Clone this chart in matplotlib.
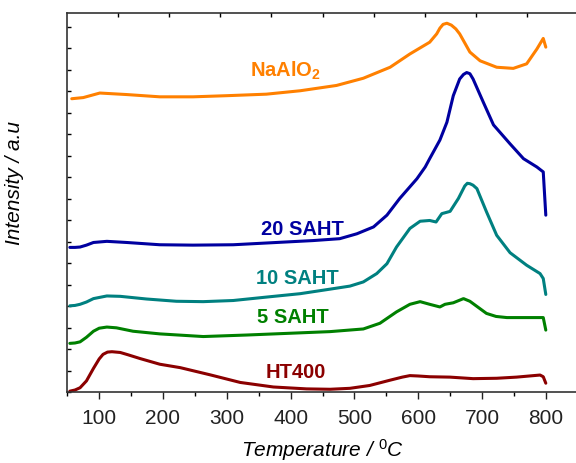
import matplotlib
matplotlib.use("Agg")
import matplotlib.pyplot as plt
import numpy as np

plt.rcParams['font.family'] = ['Liberation Sans', 'DejaVu Sans']
plt.rcParams['mathtext.fontset'] = 'custom'
plt.rcParams['mathtext.rm'] = 'Liberation Sans'
plt.rcParams['mathtext.it'] = 'Liberation Sans:italic'
plt.rcParams['mathtext.bf'] = 'Liberation Sans:bold'

# ---- data (temperature in C, intensity in arbitrary units with offsets) ----
ht400_T = [54, 62, 70, 80, 91, 100, 106, 113, 120, 133, 145, 164, 195, 227, 274, 321, 373, 425, 462,
           493, 524, 556, 575, 587, 600, 618, 650, 686, 723, 754, 791, 796, 800]
ht400_I = [0.3, 0.6, 1.2, 3.0, 6.3, 8.8, 10.0, 10.6, 10.7, 10.5, 9.9, 8.9, 7.4, 6.5, 4.6, 2.6, 1.4, 0.9, 0.8,
           1.05, 1.8, 3.2, 4.0, 4.4, 4.3, 4.1, 4.0, 3.6, 3.7, 4.0, 4.55, 4.1, 2.4]

s5_T = [54, 62, 70, 80, 91, 100, 112, 127, 153, 195, 263, 331, 404, 462, 514, 540, 566, 587, 603, 618,
        634, 642, 655, 671, 681, 694, 707, 722, 739, 775, 796, 800]
s5_I = [12.9, 13.0, 13.3, 14.5, 16.1, 16.9, 17.2, 17.0, 16.1, 15.4, 14.7, 15.1, 15.6, 16.0, 16.7, 18.2, 21.2,
        23.2, 23.9, 23.2, 22.5, 23.2, 23.6, 24.7, 24.0, 22.4, 20.8, 20.0, 19.7, 19.7, 19.7, 16.4]

s10_T = [54, 62, 70, 80, 91, 112, 133, 174, 221, 263, 310, 362, 415, 462, 493, 514, 535, 551, 566, 587,
         603, 618, 628, 637, 650, 663, 673, 677, 681, 686, 692, 707, 723, 744, 770, 791, 796, 800]
s10_I = [22.8, 22.9, 23.2, 23.8, 24.7, 25.4, 25.3, 24.6, 24.0, 23.9, 24.2, 25.1, 26.0, 27.2, 28.0, 29.1, 31.3,
         33.9, 38.3, 43.2, 45.1, 45.3, 44.9, 47.1, 47.7, 51.1, 54.4, 55.1, 55.0, 54.6, 53.7, 47.6, 41.4,
         36.8, 33.5, 31.3, 30.0, 25.8]

s20_T = [54, 62, 70, 80, 91, 112, 143, 195, 247, 310, 378, 435, 477, 504, 530, 551, 571, 598, 611, 618,
         634, 645, 655, 665, 671, 676, 681, 686, 702, 718, 744, 765, 786, 796, 800]
s20_I = [38.2, 38.2, 38.3, 38.8, 39.5, 39.8, 39.5, 38.9, 38.8, 38.9, 39.5, 40.0, 40.5, 41.8, 43.6, 46.7, 51.1,
         56.3, 59.4, 61.6, 66.5, 71.2, 78.2, 82.6, 83.8, 84.3, 84.0, 82.6, 76.5, 70.5, 65.5, 61.6, 59.4,
         58.1, 46.7]

na_T = [57, 75, 101, 143, 195, 247, 300, 362, 415, 472, 514, 556, 587, 618, 629, 634, 639, 645, 652, 659,
        665, 681, 697, 723, 749, 770, 786, 796, 800]
na_I = [77.4, 77.7, 78.9, 78.5, 77.9, 77.9, 78.2, 78.6, 79.5, 80.9, 82.8, 85.7, 89.2, 92.3, 94.5, 96.0, 97.0,
        97.3, 96.8, 95.8, 94.5, 89.7, 87.4, 85.7, 85.4, 86.6, 90.5, 93.3, 91.0]

labels = ['HT400', '5 SAHT', '10 SAHT', '20 SAHT', r'NaAlO$_\mathbf{2}$']
colors = ['#8b0000', '#008000', '#008080', '#0000a0', '#ff8000']
series_T = [ht400_T, s5_T, s10_T, s20_T, na_T]
series_I = [ht400_I, s5_I, s10_I, s20_I, na_I]
label_T = [408, 403, 411, 419, 336]
label_I = [4.1, 18.6, 28.7, 41.8, 83.4]
label_ha = ['center', 'center', 'center', 'center', 'left']

fig = plt.figure(figsize=(5.76, 4.64), dpi=100)
ax = fig.add_axes([67.3 / 576, (464 - 393.3) / 464, (577.7 - 67.3) / 576, (393.3 - 14) / 464])

for T, I, c in zip(series_T, series_I, colors):
    ax.plot(T, I, color=c, lw=2.2, solid_capstyle='round', solid_joinstyle='round')

for lab, t, i, c, ha in zip(labels, label_T, label_I, colors, label_ha):
    ax.text(t, i, lab, color=c, fontsize=14.5, fontweight='bold', ha=ha, va='baseline')

ax.set_xlim(50, 850)
ax.set_ylim(0, 100)
ax.set_xticks(np.arange(100, 801, 100))
ax.set_xticks(np.arange(50, 851, 50), minor=True)
ax.set_yticks(np.arange(0, 100, 21.5 / 3.793))
ax.set_yticklabels([])
ax.tick_params(axis='x', which='major', direction='out', length=5, width=1, labelsize=15,
               colors='#222222', pad=6)
ax.tick_params(axis='x', which='minor', direction='out', length=3, width=1)
ax.tick_params(axis='y', which='major', direction='in', length=3, width=1)

for s in ['left', 'bottom', 'top']:
    ax.spines[s].set_color('#333333')
    ax.spines[s].set_linewidth(1.2)
ax.spines['right'].set_visible(False)

ax2 = ax.twiny()
ax2.set_xlim(50, 850)
ax2.set_xticks(np.arange(130, 850, 80))
ax2.set_xticklabels([])
ax2.tick_params(axis='x', direction='in', length=3, width=1)
for s in ax2.spines.values():
    s.set_visible(False)

ax.set_xlabel(r'Temperature / $^{0}$C', fontsize=15, style='italic', labelpad=7)
ax.set_ylabel('Intensity / a.u', fontsize=15, style='italic')
ax.yaxis.set_label_coords(-0.085, 0.555)

fig.savefig('out.png', dpi=100)
